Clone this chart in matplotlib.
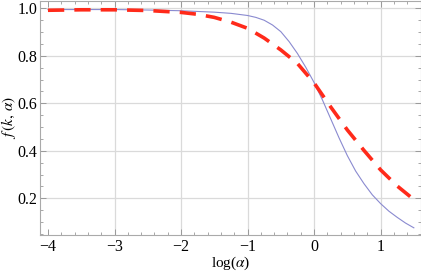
import matplotlib
matplotlib.use("Agg")
import matplotlib.pyplot as plt
from matplotlib.ticker import MultipleLocator

# Data
blue_x = [-4.0, -3.5, -3.0, -2.5, -2.0, -1.5, -1.25, -1.0, -0.875, -0.75, -0.625, -0.5,
          -0.375, -0.25, -0.125, 0.0, 0.125, 0.25, 0.375, 0.5, 0.625, 0.75, 0.875, 1.0,
          1.125, 1.25, 1.375, 1.5]
blue_y = [0.995, 0.995, 0.995, 0.993, 0.990, 0.984, 0.979, 0.970, 0.962, 0.950, 0.930, 0.902,
          0.860, 0.810, 0.752, 0.688, 0.615, 0.535, 0.455, 0.380, 0.315, 0.262, 0.215, 0.178,
          0.146, 0.120, 0.096, 0.076]
red_x = [-4.0, -3.5, -3.0, -2.5, -2.0, -1.75, -1.5, -1.25, -1.0, -0.75, -0.5, -0.25,
         0.0, 0.25, 0.5, 0.75, 1.0, 1.25, 1.5]
red_y = [0.992, 0.994, 0.994, 0.991, 0.983, 0.975, 0.962, 0.942, 0.916, 0.875, 0.825, 0.768,
         0.686, 0.585, 0.488, 0.402, 0.320, 0.252, 0.195]
x_ticks = [-4, -3, -2, -1, 0, 1]
x_tick_labels = ["\u22124", "\u22123", "\u22122", "\u22121", "0", "1"]
y_ticks = [0.2, 0.4, 0.6, 0.8, 1.0]
y_tick_labels = ["0.2", "0.4", "0.6", "0.8", "1.0"]

plt.rcParams['font.family'] = ['Liberation Serif', 'DejaVu Serif']
plt.rcParams['mathtext.fontset'] = 'stix'

fig = plt.figure(figsize=(4.21, 2.73), dpi=100)
ax = fig.add_axes([40 / 421, 1 - 234.7 / 273, 380.5 / 421, 233.7 / 273])

grid_c = "#dadada"
for gx in x_ticks[1:]:
    ax.axvline(gx, color=grid_c, lw=0.9, zorder=0)
for gy in y_ticks:
    ax.axhline(gy, color=grid_c, lw=0.9, zorder=0)

ax.plot(blue_x, blue_y, color="#8a8ad0", lw=0.8, zorder=2)
ax.plot(red_x, red_y, color="#ff2a1a", lw=2.6, dashes=(4.5, 2.8), zorder=3)

ax.set_xlim(-4.12, 1.6)
ax.set_ylim(0.047, 1.031)

ax.set_xticks(x_ticks)
ax.set_xticklabels(x_tick_labels)
ax.set_yticks(y_ticks)
ax.set_yticklabels(y_tick_labels)
ax.xaxis.set_minor_locator(MultipleLocator(0.2))
ax.yaxis.set_minor_locator(MultipleLocator(0.05))
ax.tick_params(which='both', direction='in', top=True, right=True, color="#999999",
               labelsize=11.5)
ax.tick_params(axis='y', pad=2)
ax.tick_params(axis='x', pad=3)
ax.tick_params(which='major', length=4, width=0.7)
ax.tick_params(which='minor', length=2.2, width=0.6)
ax.tick_params(labeltop=False, labelright=False)

for s in ax.spines.values():
    s.set_color("#aaaaaa")
    s.set_linewidth(0.8)

ax.set_xlabel(r"log($\alpha$)", fontsize=11)
ax.set_ylabel(r"$f\,(k,\,\alpha)$", fontsize=11)
ax.xaxis.set_label_coords(0.5, (234.7 - 263) / 233.7)
ax.yaxis.set_label_coords((8 - 40) / 380.5, 0.5)
ax.xaxis.label.set_va('center')
ax.yaxis.label.set_va('center')

fig.savefig("out.png", dpi=100)
